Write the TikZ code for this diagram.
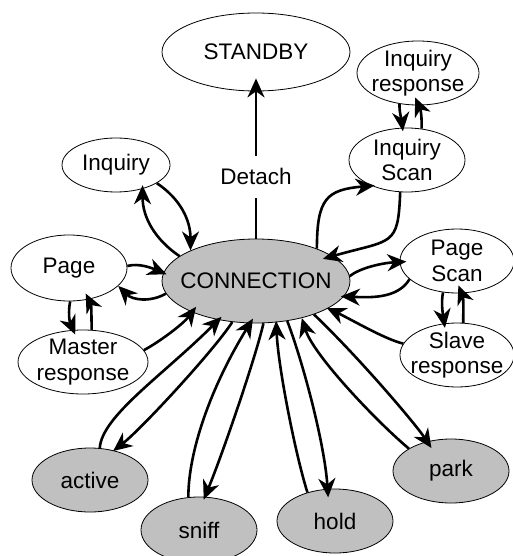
\documentclass[tikz,border=0pt]{standalone}
\usepackage{fontspec}
\setmainfont{Liberation Sans}
\usetikzlibrary{arrows.meta,shapes.geometric}
\definecolor{modegray}{RGB}{192,192,192}
\begin{document}
\begin{tikzpicture}[x=1pt, y=-1pt,
  state/.style={ellipse, draw=black, line width=0.8pt, inner xsep=-45pt, inner ysep=-10pt,
    align=center, font=\fontsize{22.5}{25.5}\selectfont},
  mode/.style={state, fill=modegray},
  edge/.style={line width=2.6pt, -{Stealth[length=19pt, width=17pt, inset=6pt]}},
  tag/.style={fill=white, inner xsep=3pt, inner ysep=0pt, minimum height=42pt,
    font=\fontsize{22.5}{25.5}\selectfont},
]
\clip (0,0) rectangle (513,556);

% states
\node[state, minimum width=188pt, minimum height=78pt] (standby) at (256,52) {STANDBY};
\node[state, minimum width=122pt, minimum height=64pt] (inqresp) at (418,73) {Inquiry\\response};
\node[state, minimum width=116pt, minimum height=64pt] (inqscan) at (407,160) {Inquiry\\Scan};
\node[state, minimum width=108pt, minimum height=54pt] (inquiry) at (116,165) {Inquiry};
\node[state, minimum width=116pt, minimum height=66pt] (page) at (69,268) {Page};
\node[mode,  minimum width=188pt, minimum height=84pt] (conn) at (256,281) {CONNECTION};
\node[state, minimum width=114pt, minimum height=64pt] (pagescan) at (457,261) {Page\\Scan};
\node[state, minimum width=130pt, minimum height=64pt] (master) at (83,362) {Master\\response};
\node[state, minimum width=114pt, minimum height=64pt] (slave) at (457,355) {Slave\\response};

% connection modes
\node[mode, minimum width=116pt, minimum height=64pt] (active) at (90,480) {active};
\node[mode, minimum width=116pt, minimum height=66pt] (sniff) at (199,530) {sniff};
\node[mode, minimum width=116pt, minimum height=64pt] (hold) at (335,521) {hold};
\node[mode, minimum width=116pt, minimum height=64pt] (park) at (451,471) {park};

% detach
\draw[edge, shorten >=-13pt] (conn.north) -- node[tag, pos=0.42] (detach) {Detach} (standby.south);

% inquiry side
\draw[edge, shorten >=-3.7pt] (conn.162) .. controls +(-25,-17) and +(0,28) .. (inquiry.-42.5);
\draw[edge] (inquiry.-24) .. controls +(24,16) and +(0,-30) .. (conn.155.8);
\draw[edge, shorten >=-3pt] (conn.28) .. controls +(0,-50) and +(-45,4) .. (inqscan.216.3);
\draw[edge, shorten >=-10pt] (inqscan.258) .. controls +(-2,55) and +(60,-17) .. (conn.18.5);
\draw[edge, shorten >=-3.6pt] (inqresp.239) .. controls +(0,10) and +(-1,-9) .. (inqscan.98.2);
\draw[edge, shorten >=-8.6pt] (inqscan.65) .. controls +(0,-10) and +(3,7) .. (inqresp.271.4);

% paging side
\draw[edge, shorten >=-3.5pt] (page.2) .. controls +(12,-3) and +(-12,-5) .. (conn.175.6);
\draw[edge] (conn.188) .. controls +(-16,9) and +(14,14) .. (page.-20.4);
\draw[edge, shorten >=-5pt] (page.-88) .. controls +(-2,10) and +(-4,-9) .. (master.107.6);
\draw[edge, shorten >=-6.6pt] (master.75) .. controls +(0,-14) and +(2.5,5) .. (page.-58.7);
\draw[edge, shorten >=-6.7pt] (master.11) .. controls +(15,-8) and +(-9,12) .. (conn.206.1);

% scanning side
\draw[edge, shorten >=-6.7pt] (conn.3) .. controls +(10,-8) and +(-18,1) .. (pagescan.181);
\draw[edge, shorten >=-3pt] (pagescan.201) .. controls +(-12,20) and +(25,1) .. (conn.-10.4);
\draw[edge, shorten >=-4.5pt] (pagescan.246) .. controls +(-2,10) and +(-1.5,-10) .. (slave.112.2);
\draw[edge, shorten >=-8.5pt] (slave.79) .. controls +(0,-12) and +(2,5) .. (pagescan.-82);
\draw[edge, shorten >=-1pt] (slave.168) .. controls +(-18,-4) and +(22,10) .. (conn.-21.8);

% connection modes
\draw[edge, shorten >=-4.3pt] (active.73) .. controls +(2,-32) and +(-55,55) .. (conn.226.3);
\draw[edge, shorten >=-1pt] (conn.240.7) .. controls +(-18,28) and +(28,-22) .. (active.51.4);
\draw[edge, shorten >=-5.5pt] (sniff.108) .. controls +(0,-45) and +(-40,65) .. (conn.262);
\draw[edge, shorten >=-3pt] (conn.-80) .. controls +(-8,35) and +(17,-41) .. (sniff.80.5);
\draw[edge, shorten >=-1.5pt] (hold.134) .. controls +(-12,-38) and +(2,45) .. (conn.-64.5);
\draw[edge, shorten >=-8.5pt] (conn.-52) .. controls +(16,42) and +(-3,-45) .. (hold.103);
\draw[edge] (park.152) .. controls +(-30,-25) and +(12,38) .. (conn.-39);
\draw[edge, shorten >=-7.9pt] (conn.-30) .. controls +(45,43) and +(-12,-18) .. (park.129.2);
\end{tikzpicture}
\end{document}
